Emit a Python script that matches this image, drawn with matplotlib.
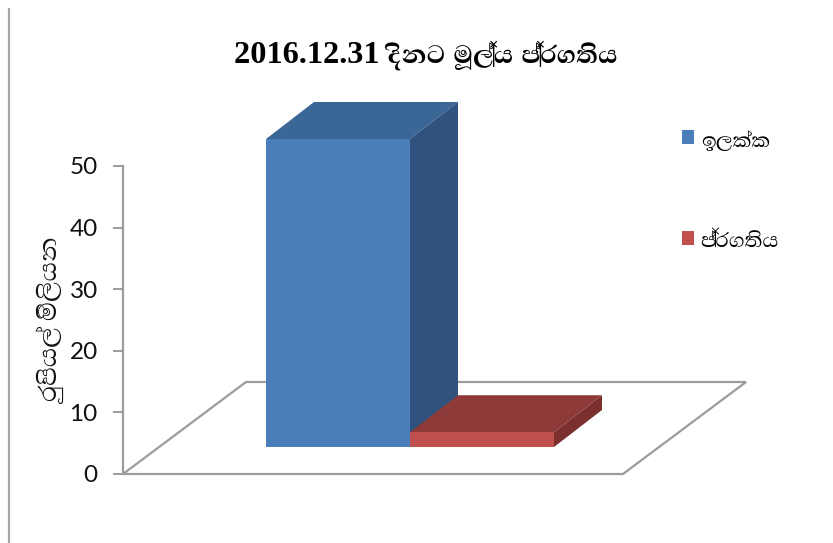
import matplotlib
matplotlib.use("Agg")
import matplotlib.pyplot as plt
from matplotlib.patches import Polygon, Patch
from matplotlib.lines import Line2D
from matplotlib import font_manager as fm
from matplotlib.ft2font import FT2Font

title_text = "2016.12.31 දිනට මූල්‍ය ප්‍රගතිය"
y_label = "රුපියල් මිලියන"
series_names = ["ඉලක්ක", "ප්‍රගතිය"]
series_values = [50.0, 2.4]
y_ticks = [0, 10, 20, 30, 40, 50]

front_colors = ["#4a7ebb", "#c0504d"]
top_colors = ["#3b6796", "#8e3a38"]
side_colors = ["#30527f", "#7b302e"]
line_grey = "#9c9c9c"

sinhala_fonts = []
for f in fm.fontManager.ttflist:
    try:
        if 0x0DA7 in FT2Font(f.fname).get_charmap():
            sinhala_fonts.append(f.name)
    except Exception:
        pass
sinhala_fonts = sorted(set(sinhala_fonts))

W, H = 833, 543
fig = plt.figure(figsize=(W / 100, H / 100), dpi=100, facecolor="white")
AX_L, AX_R, AX_B, AX_T = 123, 747, 474, 166
ax = fig.add_axes([AX_L / W, 1 - AX_B / H, (AX_R - AX_L) / W, (AX_B - AX_T) / H])

PX_X = 144.0
PX_Y = (AX_B - AX_T) / 50.0
ax.set_xlim((AX_L - 410) / PX_X, (AX_R - 410) / PX_X)
ax.set_ylim(0, 50)

base = 27 / PX_Y
depth_x = 48 / PX_X
depth_y = 37 / PX_Y
floor_x0 = (AX_L - 410) / PX_X
floor_x1 = (623 - 410) / PX_X
floor_dx = 123 / PX_X
floor_dy = 92 / PX_Y

ax.add_patch(Polygon([(floor_x0, 0), (floor_x1, 0), (floor_x1 + floor_dx, floor_dy),
                      (floor_x0 + floor_dx, floor_dy)], closed=True, fill=False,
                     edgecolor=line_grey, lw=1.6, clip_on=False, zorder=1))

positions = [-0.5, 0.5]
for i, (x, v) in enumerate(zip(positions, series_values)):
    l, r = x - 0.5, x + 0.5
    t = base + v
    ax.add_patch(Polygon([(l, t), (r, t), (r + depth_x, t + depth_y), (l + depth_x, t + depth_y)],
                         closed=True, fc=top_colors[i], ec="none", clip_on=False, zorder=3))
    ax.add_patch(Polygon([(r, base), (r + depth_x, base + depth_y), (r + depth_x, t + depth_y), (r, t)],
                         closed=True, fc=side_colors[i], ec="none", clip_on=False, zorder=3))
    ax.bar(x, v, width=1.0, bottom=base, color=front_colors[i], clip_on=False, zorder=4)

for s in ["top", "right", "bottom"]:
    ax.spines[s].set_visible(False)
ax.spines["left"].set_color(line_grey)
ax.spines["left"].set_linewidth(1.6)
ax.set_xticks([])
ax.set_yticks(y_ticks)
ax.tick_params(axis="y", length=7.2, width=1.4, color=line_grey, pad=11, labelsize=17.5, labelcolor="#111111")
for lab in ax.get_yticklabels():
    lab.set_fontfamily("Lato")

fig.text(426 / W, 1 - 55 / H, title_text, ha="center", va="center", fontsize=23.3,
         fontweight="bold", family=["Liberation Serif"] + sinhala_fonts + ["DejaVu Sans"], color="#000000")
fig.text(52 / W, 1 - 321 / H, y_label, ha="center", va="center", rotation=90, fontsize=23,
         family=sinhala_fonts + ["Noto Sans", "DejaVu Sans"], color="#111111")

handles = [Patch(fc=front_colors[0], ec="none"), Patch(fc=front_colors[1], ec="none")]
fig.legend(handles, series_names, loc="upper left", bbox_to_anchor=(682 / W, 1 - 130 / H),
           frameon=False, handlelength=0.46, handleheight=0.46, handletextpad=0.25,
           labelspacing=3.0, borderpad=0, borderaxespad=0,
           prop=fm.FontProperties(family=sinhala_fonts + ["Noto Sans", "DejaVu Sans"], size=19))

fig.add_artist(Line2D([8.5 / W, 8.5 / W], [1 - 9 / H, 0], color="#a6a6a6", lw=1.6))

fig.savefig("out.png", dpi=100, facecolor="white")
